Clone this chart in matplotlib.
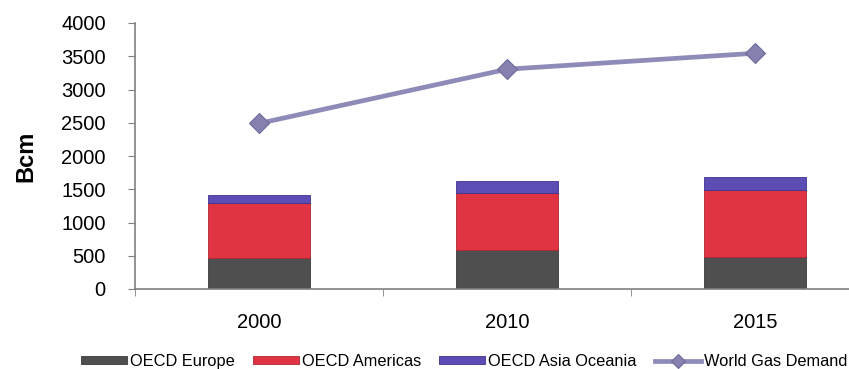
import matplotlib
matplotlib.use("Agg")
import matplotlib.pyplot as plt
import numpy as np

plt.rcParams["font.family"] = ["Liberation Sans", "DejaVu Sans"]

# ── data (Bcm) ─────────────────────────────────────────────
years = ["2000", "2010", "2015"]
oecd_europe = [465, 580, 480]
oecd_americas = [825, 860, 1005]
oecd_asia = [120, 180, 195]
world_demand = [2490, 3305, 3545]

C_EUR = "#4f4f4f"
C_AME = "#e03443"
C_ASIA = "#5b4db3"
C_LINE = "#8e8bb8"

fig = plt.figure(figsize=(8.49, 3.69), dpi=100)
ax = fig.add_axes([135 / 849, 80 / 369, 714 / 849, 266 / 369])

x = np.arange(len(years))
w = 0.41
eur = np.array(oecd_europe)
ame = np.array(oecd_americas)
asia = np.array(oecd_asia)

b1 = ax.bar(x, eur, w, color=C_EUR, edgecolor="#3a3a3a", lw=0.6,
            label="OECD Europe", zorder=2)
b2 = ax.bar(x, ame, w, bottom=eur, color=C_AME, edgecolor="#b52433", lw=0.6,
            label="OECD Americas", zorder=2)
b3 = ax.bar(x, asia, w, bottom=eur + ame, color=C_ASIA, edgecolor="#3f3390",
            lw=0.6, label="OECD Asia Oceania", zorder=2)
ln, = ax.plot(x, world_demand, color=C_LINE, lw=3.4, marker="D", ms=10,
              mfc="#8582b0", mec="#6e6b99", mew=0.8, label="World Gas Demand",
              zorder=3)

ax.set_ylim(0, 4000)
ax.set_yticks(range(0, 4001, 500))
ax.set_xlim(-0.5, (849 - 135) / 248 - 0.5)
ax.set_xticks(x)
ax.set_xticklabels(years)
ax.set_xticks([-0.5, 0.5, 1.5], minor=True)
ax.tick_params(axis="x", which="major", length=0, labelsize=14.5, pad=17)
ax.tick_params(axis="x", which="minor", length=5, color="#808080")
ax.tick_params(axis="y", length=5, color="#808080", labelsize=14.5, pad=16)

for s in ["top", "right"]:
    ax.spines[s].set_visible(False)
for s in ["left", "bottom"]:
    ax.spines[s].set_color("#808080")
    ax.spines[s].set_linewidth(1.2)

ax.set_ylabel("Bcm", fontsize=17, fontweight="bold", labelpad=17)

fig.legend(handles=[b1, b2, b3, ln], loc="lower center",
           bbox_to_anchor=(0.5465, -0.035), ncol=4, frameon=False,
           fontsize=11.8, handlelength=2.8, handleheight=0.45,
           columnspacing=1.1, handletextpad=0.2, markerscale=0.75,
           borderpad=0.3)

fig.savefig("out.png", dpi=100)
